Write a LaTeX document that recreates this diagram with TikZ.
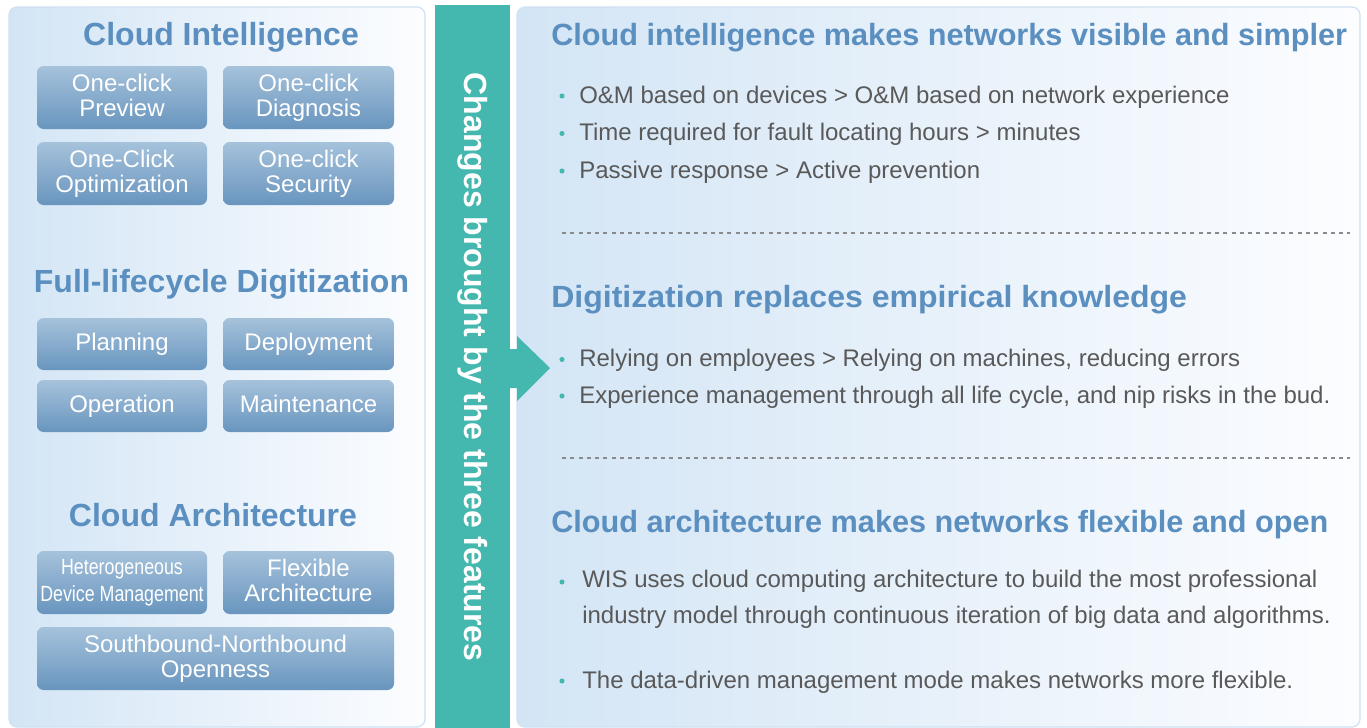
\documentclass[tikz,border=0pt]{standalone}
\usepackage{fontspec}
\setmainfont{Liberation Sans}
\usetikzlibrary{fit}
\definecolor{titleblue}{HTML}{5A8FC0}
\definecolor{txtgray}{HTML}{595959}
\definecolor{tealbar}{HTML}{44B8AE}
\definecolor{boxtop}{HTML}{A6C2DB}
\definecolor{boxbot}{HTML}{6895BE}
\definecolor{panelleft}{HTML}{D3E5F5}
\definecolor{panelright}{HTML}{FCFDFF}
\definecolor{panelborder}{HTML}{CFE1F2}
\definecolor{dashgray}{HTML}{8A8A8A}
\newcommand\bstr{\vphantom{Ag}}
\begin{document}
\begin{tikzpicture}[x=0.75pt,y=-0.75pt,
  panel/.style={draw=panelborder, line width=0.9pt, rounded corners=6pt,
    left color=panelleft, right color=panelright, inner sep=0pt},
  fbox/.style={rounded corners=5pt, top color=boxtop, bottom color=boxbot, inner sep=0pt},
  blabel/.style={inner sep=0pt, text=white, align=center, font=\fontsize{18}{19}\selectfont},
  ltitle/.style={text=titleblue, font=\fontsize{24}{26}\selectfont\bfseries, inner sep=0pt},
  rtitle/.style={text=titleblue, font=\fontsize{23}{26}\selectfont\bfseries, inner sep=0pt},
  btext/.style={text=txtgray, font=\fontsize{18}{27}\selectfont, inner sep=0pt},
  dot/.style={circle, fill=tealbar, inner sep=0pt, minimum size=3.8pt},
  sep/.style={dashgray, line width=1pt, dash pattern=on 3pt off 3.2pt},
  vtext/.style={text=white, font=\fontsize{24}{26}\selectfont\bfseries, inner sep=0pt}
]
\useasboundingbox (0,0) rectangle (1367,728);
\fill[white] (0,0) rectangle (1367,728);

% panels
\node[panel, fit={(9,7)(425,727)}] (leftpanel) {};
\node[panel, fit={(517,7)(1360,727)}] (rightpanel) {};

% teal bar and arrow
\fill[tealbar] (435,5) rectangle (510,728);
\node[vtext, rotate=-90] (vt) at (473,367) {Changes brought by the three features};
\fill[tealbar] (510,349) -- (517,349) -- (517,336) -- (550,368) -- (517,401) -- (517,388) -- (510,388) -- cycle;

% left titles
\node[ltitle, anchor=base] (lt1) at (221,45) {Cloud Intelligence};
\node[ltitle, anchor=base] (lt2) at (221.5,292) {Full-lifecycle Digitization};
\node[ltitle, anchor=base] (lt3) at (213,526) {Cloud Architecture};

% cloud intelligence boxes
\node[fbox, fit={(37,66)(207,129)}] (b11) {};
\node[fbox, fit={(223,66)(394,129)}] (b12) {};
\node[fbox, fit={(37,142)(207,205)}] (b13) {};
\node[fbox, fit={(223,142)(394,205)}] (b14) {};
\node[blabel] (t11) at (b11.center) {One-click\\Preview\bstr};
\node[blabel] (t12) at (b12.center) {One-click\\Diagnosis\bstr};
\node[blabel] (t13) at (b13.center) {One-Click\\Optimization\bstr};
\node[blabel] (t14) at (b14.center) {One-click\\Security\bstr};

% full lifecycle boxes
\node[fbox, fit={(37,318)(207,370)}] (b21) {};
\node[fbox, fit={(223,318)(394,370)}] (b22) {};
\node[fbox, fit={(37,380)(207,432)}] (b23) {};
\node[fbox, fit={(223,380)(394,432)}] (b24) {};
\node[blabel] (t21) at (b21.center) {Planning\bstr};
\node[blabel] (t22) at (b22.center) {Deployment\bstr};
\node[blabel] (t23) at (b23.center) {Operation\bstr};
\node[blabel] (t24) at (b24.center) {Maintenance\bstr};

% cloud architecture boxes
\node[fbox, fit={(37,551)(207,614)}] (b31) {};
\node[fbox, fit={(223,551)(394,614)}] (b32) {};
\node[fbox, fit={(37,627)(394,690)}] (b33) {};
\node[blabel, font=\fontsize{16.5}{20}\selectfont] (t31) at (b31.center) {\scalebox{0.81}[1]{Heterogeneous}\\\scalebox{0.81}[1]{Device Management}\bstr};
\node[blabel] (t32) at (b32.center) {Flexible\\Architecture\bstr};
\node[blabel] (t33) at (b33.center) {Southbound-Northbound\\Openness\bstr};

% right section 1
\node[rtitle, anchor=base west] (rt1) at (551,45) {Cloud intelligence makes networks visible and simpler};
\node[dot] (d11) at (562,96) {};
\node[btext, anchor=base west] (r11) at (579,103) {O\&M based on devices > O\&M based on network experience};
\node[dot] (d12) at (562,133.5) {};
\node[btext, anchor=base west] (r12) at (579,140.5) {Time required for fault locating hours > minutes};
\node[dot] (d13) at (562,171) {};
\node[btext, anchor=base west] (r13) at (579,178) {Passive response > Active prevention};
\coordinate (s1a) at (562,233);
\coordinate (s1b) at (1350,233);
\draw[sep] (s1a) -- (s1b);

% right section 2
\node[rtitle, anchor=base west] (rt2) at (551,307) {\scalebox{1.045}[1]{Digitization replaces empirical knowledge}};
\node[dot] (d21) at (562,359.5) {};
\node[btext, anchor=base west] (r21) at (579,366.5) {Relying on employees > Relying on machines, reducing errors};
\node[dot] (d22) at (562,396) {};
\node[btext, anchor=base west] (r22) at (579,403) {Experience management through all life cycle, and nip risks in the bud.};
\coordinate (s2a) at (562,458);
\coordinate (s2b) at (1350,458);
\draw[sep] (s2a) -- (s2b);

% right section 3
\node[rtitle, anchor=base west] (rt3) at (551,532) {Cloud architecture makes networks flexible and open};
\node[dot] (d31) at (562,582) {};
\node[btext, anchor=north west, align=left] (r31) at (582,569.8) {WIS uses cloud computing architecture to build the most professional\\industry model through continuous iteration of big data and algorithms.};
\node[dot] (d32) at (562,681) {};
\node[btext, anchor=base west] (r32) at (582,688) {The data-driven management mode makes networks more flexible.};
\end{tikzpicture}
\end{document}
